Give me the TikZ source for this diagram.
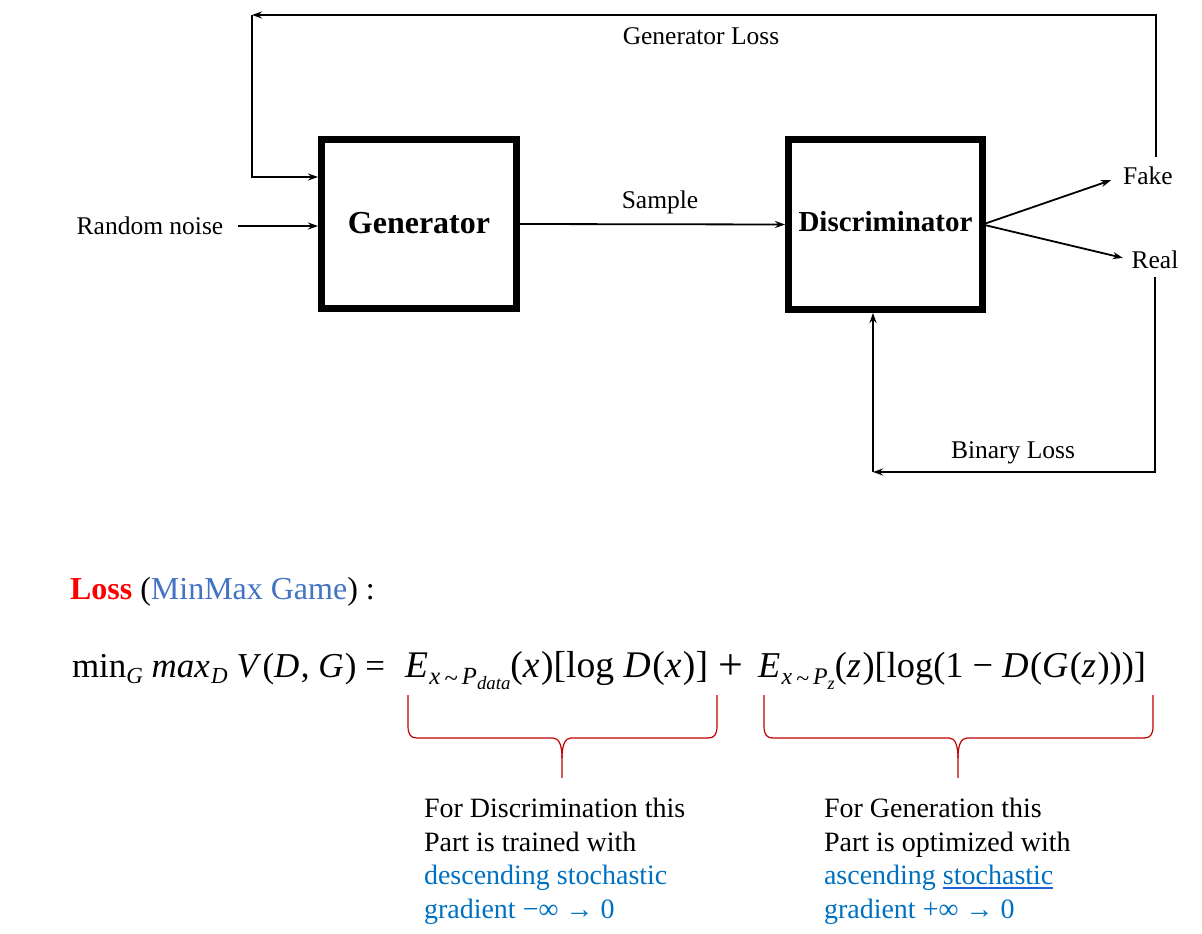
\documentclass[tikz,border=0pt]{standalone}
\usepackage{fontspec}
\setmainfont{Liberation Serif}
\usepackage{graphicx}
\usetikzlibrary{arrows.meta,calc}
\definecolor{lossred}{HTML}{FF0000}
\definecolor{gameblue}{HTML}{4472C4}
\definecolor{txtblue}{HTML}{0070C0}
\definecolor{bracered}{HTML}{C00000}
\definecolor{ulblue}{HTML}{1F5FD8}
\newsavebox{\ulbox}
\newcommand{\blueul}[1]{\sbox{\ulbox}{#1}\rlap{\textcolor{ulblue}{\rule[-5pt]{\wd\ulbox}{1.8pt}}}\usebox{\ulbox}}
\newcommand{\fsub}[1]{\raisebox{-0.2em}{\fontsize{21}{21}\selectfont #1}}
\newcommand{\fsubsub}[1]{\raisebox{-0.22em}{\fontsize{16}{16}\selectfont #1}}
\newcommand{\vi}[1]{\textit{#1}\kern0.04em}
\begin{document}
\begin{tikzpicture}[x=1pt,y=-1pt,
  every node/.style={inner sep=0pt, outer sep=0pt},
  lbl/.style={font=\fontsize{25.5}{30}\selectfont},
  block/.style={draw, line width=7pt, minimum width=195pt, minimum height=169pt},
  conn/.style={line width=1.8pt, -{Stealth[length=10pt,width=7pt]}},
  brace/.style={draw=bracered, line width=1.2pt},
  desc/.style={font=\fontsize{28}{34}\selectfont, anchor=base west},
  frm/.style={font=\fontsize{32}{38}\selectfont, anchor=base west},
]
\useasboundingbox (0,0) rectangle (1202,934);

% blocks
\node[block, font=\fontsize{32}{38}\selectfont\bfseries] (gen) at (419,224) {\raisebox{3pt}{Generator}};
\node[block, minimum width=194pt, minimum height=170pt, font=\fontsize{29}{34}\selectfont\bfseries] (disc) at (885.5,224.5) {\raisebox{6pt}{Discriminator}};

% labels
\node[lbl] (rn) at (150,226) {Random noise};
\node[lbl] (samp) at (660,202) {Sample};
\node[lbl] (fake) at (1148,176) {Fake};
\node[lbl] (real) at (1155,260) {Real};
\node[lbl] (gl) at (701,36) {Generator Loss};
\node[lbl] (bl) at (1013,453) {Binary Loss};

% coordinates for loop corners
\coordinate (ftop) at (1156,157);
\coordinate (tl) at (252,15);
\coordinate (gin) at (318,177);
\coordinate (rbot) at (1155,277);
\coordinate (bc) at (873,472);

% connectors
\draw[conn, shorten <=15pt, shorten >=3.5pt] (rn.east) -- (rn.east -| gen.west);
\draw[conn, shorten <=3.5pt, shorten >=3.5pt] (gen.east) -- (disc.west);
\draw[conn, shorten <=3.5pt, shorten >=13pt] (disc.east) -- (fake.west);
\draw[conn, shorten <=3.5pt, shorten >=9pt] (disc.east) -- (real.west);
\draw[conn] (ftop) |- (tl);
\draw[conn] (tl) |- (gin);
\draw[conn] (rbot) |- (bc);
\draw[conn, shorten >=3.5pt] (bc) -- (bc |- disc.south);

% loss title
\node[anchor=base west, font=\fontsize{32}{38}\selectfont] (losst) at (70,599)
  {\textcolor{lossred}{\textbf{Loss}} (\textcolor{gameblue}{MinMax Game}) :};

% formula
\node[frm] (fa) at (72,677) {\resizebox{313pt}{!}{min\fsub{\textit{G}}\ \vi{max}\fsub{\textit{D}}\ \vi{V}(\vi{D}, \vi{G}) =}};
\node[frm] (fb) at (405,677) {\resizebox{303pt}{!}{\vi{E}\fsub{\textit{x}\,\raisebox{-0.1em}{\textasciitilde}\,\textit{P}\fsubsub{\textit{data}}}(\vi{x})[log \vi{D}(\vi{x})]}};
\node[frm, anchor=base, font=\fontsize{44}{44}\selectfont] (fp) at (731,679) {+};
\node[frm] (fd) at (758,677) {\resizebox{388pt}{!}{\vi{E}\fsub{\textit{x}\,\raisebox{-0.1em}{\textasciitilde}\,\textit{P}\fsubsub{\textit{z}}}(\vi{z})[log(1 − \vi{D}(\vi{G}(\vi{z})))]}};

% braces
\draw[brace] (408,695) -- (408,726) .. controls (408,735) and (411,738) .. (417,738) -- (553,738)
  .. controls (559,738) and (562,745) .. (562,758) -- (562,778);
\draw[brace] (717,695) -- (717,726) .. controls (717,735) and (714,738) .. (708,738) -- (571,738)
  .. controls (565,738) and (562,745) .. (562,758);
\draw[brace] (764,695) -- (764,726) .. controls (764,735) and (767,738) .. (773,738) -- (949,738)
  .. controls (955,738) and (958,745) .. (958,758) -- (958,778);
\draw[brace] (1153,695) -- (1153,726) .. controls (1153,735) and (1150,738) .. (1144,738) -- (967,738)
  .. controls (961,738) and (958,745) .. (958,758);

% descriptions
\node[desc] (l1) at (424,817) {For Discrimination this};
\node[desc] (l2) at (424,851) {Part is trained with};
\node[desc, text=txtblue] (l3) at (424,884) {descending stochastic};
\node[desc, text=txtblue] (l4) at (424,918) {gradient −∞ → 0};

\node[desc] (r1) at (824,817) {For Generation this};
\node[desc] (r2) at (824,851) {Part is optimized with};
\node[desc, text=txtblue] (r3) at (824,884) {ascending \blueul{stochastic}};
\node[desc, text=txtblue] (r4) at (824,918) {gradient +∞ → 0};
\end{tikzpicture}
\end{document}
